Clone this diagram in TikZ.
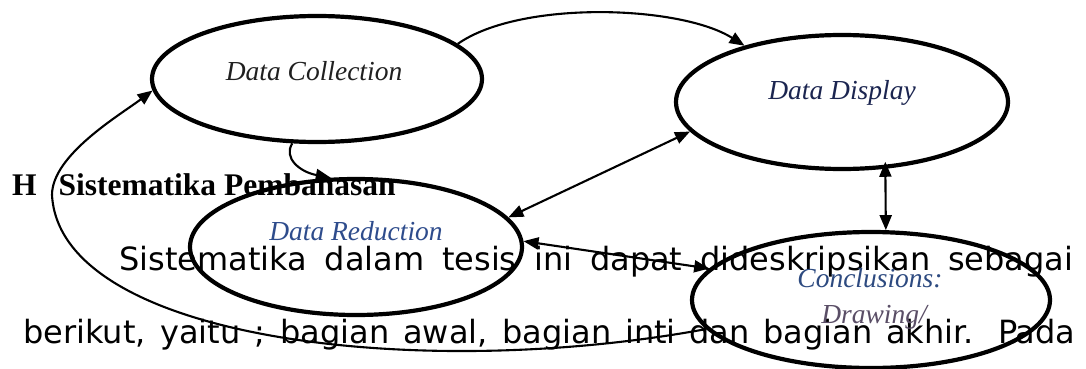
\documentclass[tikz,border=0pt]{standalone}
\usepackage{fontspec}
\usetikzlibrary{shapes.geometric,arrows.meta}
\newfontfamily\bodyfont{DejaVu Sans}
\newfontfamily\seriffont{Liberation Serif}
\definecolor{inkgray}{HTML}{202020}
\definecolor{navyink}{HTML}{1B2550}
\definecolor{blueink}{HTML}{2E4C8C}
\definecolor{slateink}{HTML}{2D4A80}
\definecolor{mixink}{HTML}{5A4E66}

\begin{document}
\begin{tikzpicture}[x=1pt,y=-1pt,
  stage/.style={draw, ellipse, line width=4.2pt, inner sep=0pt},
  tip/.tip={Triangle[length=15pt,width=12pt]},
  link/.style={line width=2.1pt, -tip},
  twoway/.style={line width=2.1pt, tip-tip},
  stagelabel/.style={font=\seriffont\itshape\fontsize{27.5}{30}\selectfont, anchor=base, inner sep=0pt},
  bodyline/.style={font=\bodyfont\fontsize{32}{38}\selectfont, anchor=base west, inner sep=0pt},
  headline/.style={font=\seriffont\bfseries\fontsize{31.5}{36}\selectfont, anchor=base west, inner sep=0pt},
]
\path[use as bounding box] (0,0) rectangle (1086,369);

% running text of the page
\node[headline] (heading) at (12,195) {H\hspace{22pt}Sistematika Pembahasan};
\node[bodyline] (line1) at (119,270) {\makebox[954pt][s]{Sistematika dalam tesis ini dapat dideskripsikan sebagai}};
\node[bodyline] (line2) at (23,343) {\makebox[1052pt][s]{berikut, yaitu ; bagian awal, bagian inti dan bagian akhir. Pada}};

% the four stages
\node[stage, minimum width=330pt, minimum height=126pt] (dc) at (317,79) {};
\node[stage, minimum width=332pt, minimum height=134pt] (dd) at (842,102) {};
\node[stage, minimum width=332pt, minimum height=136pt] (dr) at (356,247) {};
\node[stage, minimum width=358pt, minimum height=136pt] (cd) at (871,300) {};

\node[stagelabel, text=inkgray] (dctext) at (314,81) {Data Collection};
\node[stagelabel, text=navyink] (ddtext) at (842,99) {Data Display};
\node[stagelabel, text=blueink] (drtext) at (356,240) {Data Reduction};
\node[stagelabel, text=slateink] (cdtext) at (870,287) {Conclusions:};
\node[stagelabel, text=mixink] (cdtextb) at (874,323) {Drawing/};

% connectors
\draw[link] (dc.14) .. controls (520,0) and (680,5) .. (dd.150);
\draw[link] (dc.249) .. controls (283,158) and (300,172) .. (dr.110);
\draw[twoway] (dd.191) -- (dr.11);
\draw[twoway, shorten <=-7pt] (dd.303) -- (cd.78);
\draw[twoway] (dr.2) -- (cd.169);
\coordinate (loopleft) at (52,195);
\draw[link] (cd.190) .. controls (420,382) and (60,340) .. (loopleft)
  .. controls (52,155) and (120,115) .. (dc.184);
\end{tikzpicture}
\end{document}
